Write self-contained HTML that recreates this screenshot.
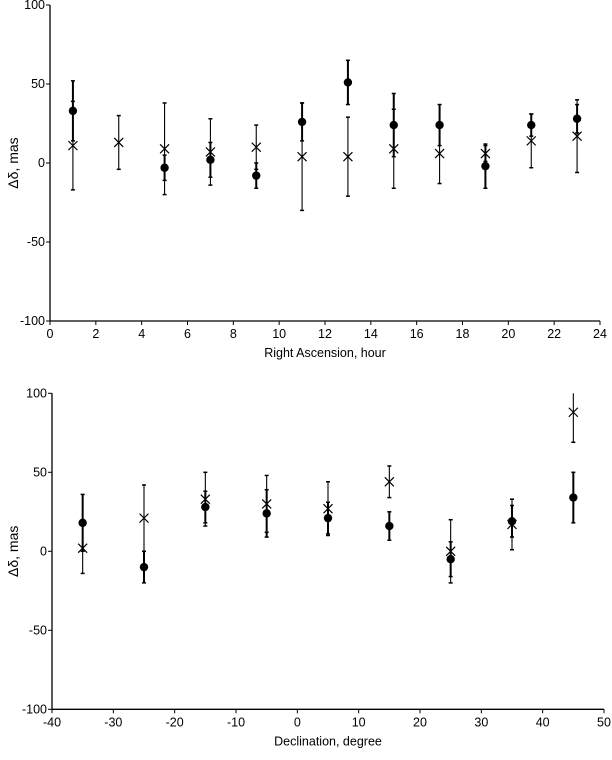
<!DOCTYPE html>
<html><head><meta charset="utf-8"><style>
html,body{margin:0;padding:0;background:#fff;}
svg{display:block;font-family:"Liberation Sans",Arial,sans-serif;}
</style></head><body>
<svg id="s" width="612" height="760" viewBox="0 0 612 760"></svg>
<script>
const raHours=[1,3,5,7,9,11,13,15,17,19,21,23];
const raCircle=[33,null,-3,2,-8,26,51,24,24,-2,24,28];
const raCircleErr=[19,null,8,11,8,12,14,20,13,14,7,9];
const raCross=[11,13,9,7,10,4,4,9,6,6,14,17];
const raCrossErr=[28,17,29,21,14,34,25,25,19,5,17,23];
const raTicks=[0,2,4,6,8,10,12,14,16,18,20,22,24];
const decDeg=[-35,-25,-15,-5,5,15,25,35,45];
const decCircle=[18,-10,28,24,21,16,-5,19,34];
const decCircleErr=[18,10,10,15,10,9,11,10,16];
const decCross=[2,21,33,30,27,44,0,17,88];
const decCrossErr=[16,21,17,18,17,10,20,16,19];
const decTicks=[-40,-30,-20,-10,0,10,20,30,40,50];
const yTicks=[100,50,0,-50,-100];

const NS="http://www.w3.org/2000/svg";
const svg=document.getElementById('s');
function el(tag,attrs,parent,text){const e=document.createElementNS(NS,tag);for(const k in attrs)e.setAttribute(k,attrs[k]);if(text!==undefined)e.textContent=text;(parent||svg).appendChild(e);return e;}

function panel(cfg){
  const g=el('g',{});
  
  
  const X=v=>cfg.x0+(v-cfg.xmin)/(cfg.xmax-cfg.xmin)*(cfg.x1-cfg.x0);
  const Y=v=>cfg.y0+(100-v)/200*(cfg.y1-cfg.y0);
  const ya=el('line',{x1:X(cfg.xmin),y1:Y(100),x2:X(cfg.xmin),y2:Y(-100),stroke:'#000','stroke-width':1.3},g);
  
  const xa=el('line',{x1:X(cfg.xmin),y1:Y(-100),x2:X(cfg.xmax),y2:Y(-100),stroke:'#000','stroke-width':1.3},g);
  
  yTicks.forEach(t=>{
    el('line',{x1:X(cfg.xmin)-4,y1:Y(t),x2:X(cfg.xmin),y2:Y(t),stroke:'#000'},g);
    const tx=el('text',{x:X(cfg.xmin)-5,y:Y(t)+4,'text-anchor':'end','font-size':12.5},g,String(t));
    
  });
  cfg.xticks.forEach(t=>{
    el('line',{x1:X(t),y1:Y(-100),x2:X(t),y2:Y(-100)+4,stroke:'#000'},g);
    const tx=el('text',{x:X(t),y:Y(-100)+17,'text-anchor':'middle','font-size':12.5},g,String(t));
    
  });
  const xt=el('text',{x:(X(cfg.xmin)+X(cfg.xmax))/2,y:Y(-100)+36,'text-anchor':'middle','font-size':12.5},g,cfg.xtitle);
  
  const cy=(Y(100)+Y(-100))/2;
  const yt=el('text',{x:18,y:cy,'text-anchor':'middle','font-size':14,transform:'rotate(-90 18 '+cy+')'},g,'Δδ, mas');
  
  function bar(x,v,e,w){
    const a=Math.min(100,v+e),b=Math.max(-100,v-e);
    const l=el('line',{x1:X(x),y1:Y(a),x2:X(x),y2:Y(b),stroke:'#000','stroke-width':w},g);
    
    if(v+e<=100)el('line',{x1:X(x)-2,y1:Y(a),x2:X(x)+2,y2:Y(a),stroke:'#000','stroke-width':1.5},g);
    el('line',{x1:X(x)-2,y1:Y(b),x2:X(x)+2,y2:Y(b),stroke:'#000','stroke-width':1.5},g);
  }
  cfg.xs.forEach((x,i)=>{
    if(cfg.cross[i]!=null)bar(x,cfg.cross[i],cfg.crossErr[i],1.1);
    if(cfg.circ[i]!=null)bar(x,cfg.circ[i],cfg.circErr[i],2);
  });
  cfg.xs.forEach((x,i)=>{
    if(cfg.circ[i]!=null){
      const c=el('circle',{cx:X(x),cy:Y(cfg.circ[i]),r:4.2,fill:'#000'},g);
      
    }
    if(cfg.cross[i]!=null){
      const px=X(x),py=Y(cfg.cross[i]),s=4.5;
      const p=el('path',{d:`M${px-s} ${py-s}L${px+s} ${py+s}M${px-s} ${py+s}L${px+s} ${py-s}`,stroke:'#000','stroke-width':1.2,fill:'none'},g);
      
    }
  });
}
panel({name:'ra-chart',x0:50,x1:600,y0:5,y1:321,xmin:0,xmax:24,xticks:raTicks,xtitle:'Right Ascension, hour',
  xs:raHours,circ:raCircle,circErr:raCircleErr,cross:raCross,crossErr:raCrossErr});
panel({name:'dec-chart',x0:52,x1:604,y0:393.3,y1:709.3,xmin:-40,xmax:50,xticks:decTicks,xtitle:'Declination, degree',
  xs:decDeg,circ:decCircle,circErr:decCircleErr,cross:decCross,crossErr:decCrossErr});
</script>
</body></html>
